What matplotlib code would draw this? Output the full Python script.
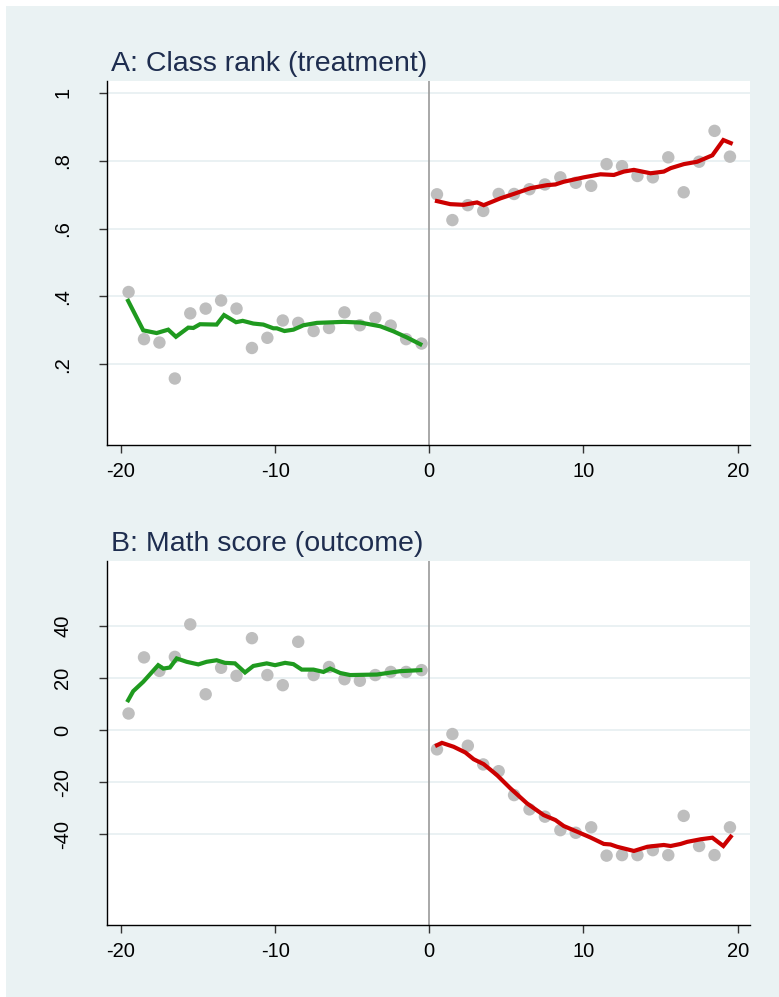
import matplotlib
matplotlib.use("Agg")
import matplotlib.pyplot as plt
from matplotlib.patches import Rectangle

plt.rcParams['font.family'] = ['Liberation Sans', 'DejaVu Sans']

# ---------------- data ----------------
x_left = [-19.5, -18.5, -17.5, -16.5, -15.5, -14.5, -13.5, -12.5, -11.5, -10.5,
          -9.5, -8.5, -7.5, -6.5, -5.5, -4.5, -3.5, -2.5, -1.5, -0.5]
x_right = [0.5, 1.5, 2.5, 3.5, 4.5, 5.5, 6.5, 7.5, 8.5, 9.5,
           10.5, 11.5, 12.5, 13.5, 14.5, 15.5, 16.5, 17.5, 18.5, 19.5]

rank_left = [0.413, 0.274, 0.264, 0.158, 0.350, 0.364, 0.388, 0.364, 0.248, 0.278,
             0.329, 0.322, 0.298, 0.307, 0.353, 0.315, 0.337, 0.314, 0.274, 0.261]
rank_right = [0.701, 0.625, 0.669, 0.652, 0.702, 0.702, 0.716, 0.730, 0.751, 0.735,
              0.726, 0.790, 0.784, 0.755, 0.751, 0.810, 0.707, 0.797, 0.888, 0.812]

rank_fit_left_x = [-19.53, -18.55, -17.68, -16.93, -16.43, -15.63, -15.3, -14.87, -13.79, -13.31,
                   -12.53, -12.1, -11.41, -10.76, -10.11, -9.89, -9.39, -8.81, -8.16, -7.29,
                   -5.56, -4.48, -3.18, -2.32, -1.45, -0.58]
rank_fit_left_y = [0.387, 0.300, 0.292, 0.302, 0.281, 0.308, 0.307, 0.318, 0.317, 0.345,
                   0.324, 0.328, 0.320, 0.317, 0.306, 0.306, 0.298, 0.302, 0.315, 0.322,
                   0.325, 0.323, 0.312, 0.297, 0.279, 0.259]
rank_fit_right_x = [0.5, 1.36, 2.23, 3.1, 3.53, 4.61, 5.47, 6.56, 7.64, 8.18,
                    8.72, 10.02, 11.1, 11.97, 12.62, 13.27, 14.35, 15.21, 15.65, 16.51,
                    17.38, 18.36, 19.07, 19.55]
rank_fit_right_y = [0.681, 0.672, 0.670, 0.677, 0.669, 0.689, 0.702, 0.719, 0.728, 0.730,
                    0.738, 0.751, 0.760, 0.758, 0.768, 0.773, 0.763, 0.768, 0.778, 0.790,
                    0.797, 0.816, 0.861, 0.852]

math_left = [6.4, 28.0, 22.8, 28.2, 40.7, 13.8, 24.0, 20.9, 35.4, 21.2,
             17.3, 34.0, 21.2, 24.3, 19.6, 19.0, 21.2, 22.4, 22.4, 23.1]
math_right = [-7.4, -1.5, -6.0, -13.2, -15.8, -25.0, -30.5, -33.3, -38.5, -39.5,
              -37.4, -48.3, -48.1, -48.1, -46.2, -48.1, -33.0, -44.6, -48.1, -37.4]

math_fit_left_x = [-19.53, -19.2, -18.55, -17.58, -17.25, -16.82, -16.38, -15.73, -14.98, -14.44,
                   -13.79, -13.25, -12.6, -11.95, -11.41, -10.54, -10.0, -9.35, -8.81, -8.27,
                   -7.51, -6.86, -6.43, -5.78, -5.13, -3.4, -1.88, -0.58]
math_fit_left_y = [11.5, 15.0, 18.6, 25.0, 23.7, 24.1, 27.6, 26.3, 25.3, 26.3,
                   26.9, 25.9, 25.7, 22.2, 24.7, 25.7, 25.0, 25.9, 25.4, 23.3,
                   23.3, 22.4, 23.7, 22.0, 21.2, 21.4, 22.7, 23.1]
math_fit_right_x = [0.5, 0.82, 1.58, 2.34, 2.88, 3.53, 4.39, 5.26, 6.34, 7.42,
                    8.18, 8.72, 9.59, 10.45, 11.32, 11.75, 12.19, 13.27, 14.14, 14.57,
                    15.21, 15.65, 16.3, 16.73, 17.6, 18.36, 19.07, 19.55]
math_fit_right_y = [-5.8, -4.9, -6.4, -8.6, -11.2, -13.1, -17.3, -22.4, -28.2, -32.7,
                    -34.6, -36.9, -39.1, -41.3, -43.8, -44.0, -44.9, -46.5, -44.9, -44.6,
                    -44.2, -44.6, -43.8, -43.0, -42.0, -41.4, -44.6, -41.0]

titles = ["A: Class rank (treatment)", "B: Math score (outcome)"]
x_ticks = [-20, -10, 0, 10, 20]
rank_ticks = [0.2, 0.4, 0.6, 0.8, 1.0]
rank_tick_labels = [".2", ".4", ".6", ".8", "1"]
math_ticks = [-40, -20, 0, 20, 40]
math_tick_labels = ["-40", "-20", "0", "20", "40"]

# ---------------- style ----------------
BG = "#EAF2F3"
GRID = "#E6EFF1"
DOT = "#BEBEBE"
GREEN = "#1F9A1F"
RED = "#CC0000"
TITLE = "#1E2D4F"

W, H = 779, 997
fig = plt.figure(figsize=(W / 100, H / 100), dpi=100)
fig.patch.set_facecolor("white")
fig.add_artist(Rectangle((6 / W, 0), 1 - 6 / W, 1 - 6 / H, transform=fig.transFigure,
                         facecolor=BG, edgecolor="none", zorder=0))


def px_axes(left, top, right, bottom):
    return fig.add_axes([left / W, 1 - bottom / H, (right - left) / W, (bottom - top) / H])


axA = px_axes(107, 81, 750, 445)
axB = px_axes(107, 561, 750, 925)

panels = [
    (axA, rank_left, rank_right, rank_fit_left_x, rank_fit_left_y, rank_fit_right_x, rank_fit_right_y,
     (-0.038, 1.035), rank_ticks, rank_tick_labels),
    (axB, math_left, math_right, math_fit_left_x, math_fit_left_y, math_fit_right_x, math_fit_right_y,
     (-75.0, 65.1), math_ticks, math_tick_labels),
]

for i, (ax, yl, yr, flx, fly, frx, fry, ylim, yt, ytl) in enumerate(panels):
    ax.set_facecolor("white")
    ax.set_xlim(-20.9, 20.8)
    ax.set_ylim(*ylim)
    for t in yt:
        ax.axhline(t, color=GRID, lw=1.2, zorder=1)
    ax.axvline(0, color="#9A9A9A", lw=1.2, zorder=2)
    ax.scatter(x_left, yl, s=80, color=DOT, edgecolors="none", zorder=3)
    ax.scatter(x_right, yr, s=80, color=DOT, edgecolors="none", zorder=3)
    ax.plot(flx, fly, color=GREEN, lw=3.0, zorder=4, solid_joinstyle="miter")
    ax.plot(frx, fry, color=RED, lw=3.0, zorder=4, solid_joinstyle="miter")

    for side in ["top", "right"]:
        ax.spines[side].set_visible(False)
    for side in ["left", "bottom"]:
        ax.spines[side].set_color("#000000")
        ax.spines[side].set_linewidth(1.0)

    ax.set_xticks(x_ticks)
    ax.set_xticklabels([str(v) for v in x_ticks])
    ax.set_yticks(yt)
    ax.set_yticklabels(ytl, rotation=90, va="center")
    ax.tick_params(axis="both", direction="out", length=6, width=1.0, color="#333333",
                   labelsize=14.5, labelcolor="black")
    ax.tick_params(axis="x", pad=6)
    ax.tick_params(axis="y", pad=19)

    ax.text(0.006, 1.028, titles[i], transform=ax.transAxes, ha="left", va="baseline",
            fontsize=20.5, color=TITLE)

fig.savefig("out.png", dpi=100, facecolor=fig.get_facecolor())
